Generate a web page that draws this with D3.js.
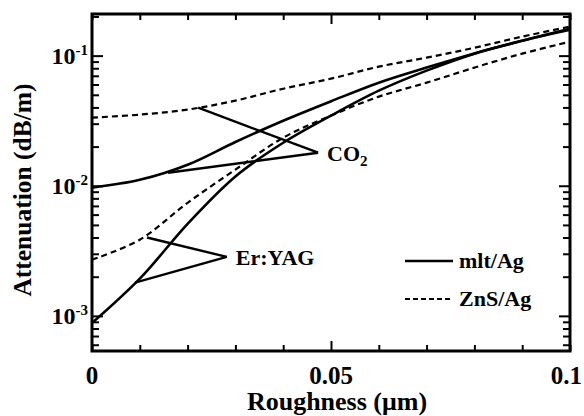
<!DOCTYPE html>
<html>
<head>
<meta charset="utf-8">
<script src="https://cdn.jsdelivr.net/npm/d3@7"></script>
<style>
  body { margin: 0; background: #fff; }
  svg text { font-family: "Liberation Serif", "Times New Roman", serif; font-weight: bold; fill: #000; }
</style>
</head>
<body>
<svg id="chart" width="584" height="416"></svg>
<script>
// roughness (um) sample points
var roughness = [0, 0.01, 0.02, 0.03, 0.04, 0.05, 0.06, 0.07, 0.08, 0.09, 0.1];
// attenuation (dB/m)
var co2Mlt = [0.00966, 0.0111, 0.0145, 0.0217, 0.0316, 0.0446, 0.062, 0.081, 0.104, 0.130, 0.161];
var co2Zns = [0.0334, 0.0352, 0.0385, 0.0451, 0.0557, 0.0665, 0.0823, 0.0965, 0.115, 0.140, 0.167];
var erMlt = [0.00088, 0.00193, 0.0051, 0.0118, 0.0214, 0.0346, 0.0538, 0.0767, 0.1036, 0.130, 0.158];
var erZns = [0.0027, 0.00385, 0.0074, 0.0133, 0.0234, 0.0346, 0.0484, 0.062, 0.0809, 0.1036, 0.128];

var xTickLabels = [0, 0.05, 0.1];
var yDecades = [1e-3, 1e-2, 1e-1];
var yExponents = ["-3", "-2", "-1"];

// annotation pointers: [vertex, end on dashed, end on solid]
var co2Pointer = [[0.0473, 0.01795], [0.0222, 0.0398], [0.0159, 0.0126]];
var erPointer = [[0.0282, 0.00284], [0.0115, 0.0040], [0.009, 0.0018]];

var legendItems = ["mlt/Ag", "ZnS/Ag"];

var L = 92, R = 570, T = 14, B = 351;
var svg = d3.select("#chart");

var x = d3.scaleLinear().domain([0, 0.1]).range([L, R]);
var y = d3.scaleLog().domain([Math.pow(10, -3.27), Math.pow(10, -0.68)]).range([B, T]);

// minor ticks for log axis
var yTicks = [];
[-4, -3, -2, -1].forEach(function(e) {
	for (var m = 1; m <= 9; m++) {
		var v = m * Math.pow(10, e);
		if (v >= y.domain()[0] && v <= y.domain()[1]) yTicks.push(v);
	}
});
var xMinor = d3.range(0, 0.1001, 0.01);

function isMajor(v) { return Math.abs(Math.log10(v) - Math.round(Math.log10(v))) < 1e-6; }

var yLeft = svg.append("g").attr("transform", "translate(" + L + ",0)")
	.call(d3.axisLeft(y).tickValues(yTicks).tickFormat("").tickSizeOuter(0));
var yRight = svg.append("g").attr("transform", "translate(" + R + ",0)")
	.call(d3.axisRight(y).tickValues(yTicks).tickFormat("").tickSizeOuter(0));
yLeft.selectAll(".tick line").attr("x2", function(d) { return isMajor(d) ? 11 : 7; });
yRight.selectAll(".tick line").attr("x2", function(d) { return isMajor(d) ? -11 : -7; });

var xBottom = svg.append("g").attr("transform", "translate(0," + B + ")")
	.call(d3.axisBottom(x).tickValues(xMinor).tickFormat("").tickSizeOuter(0));
var xTop = svg.append("g").attr("transform", "translate(0," + T + ")")
	.call(d3.axisTop(x).tickValues(xMinor).tickFormat("").tickSizeOuter(0));
xBottom.selectAll(".tick line").attr("y2", function(d, i) { return i === 5 ? -10 : -6; });
xTop.selectAll(".tick line").attr("y2", function(d, i) { return i === 5 ? 10 : 6; });

svg.selectAll(".domain").remove();
svg.selectAll(".tick line").attr("stroke", "#000").attr("stroke-width", 2);

// frame
svg.append("rect")
	.attr("x", L).attr("y", T).attr("width", R - L).attr("height", B - T)
	.attr("fill", "none").attr("stroke", "#000").attr("stroke-width", 3);

// x tick labels (last one kept inside the page)
svg.selectAll("text.xlab").data(xTickLabels).enter().append("text")
	.attr("class", "xlab")
	.attr("x", function(d, i) { return i === xTickLabels.length - 1 ? 582 : x(d); })
	.attr("y", 384)
	.attr("text-anchor", function(d, i) { return i === xTickLabels.length - 1 ? "end" : "middle"; })
	.style("font-size", "25px")
	.text(function(d) { return d === 0 ? "0" : String(d); });

// y tick labels with superscript exponents
var ylab = svg.selectAll("text.ylab").data(yDecades).enter().append("text")
	.attr("class", "ylab")
	.attr("x", 88)
	.attr("y", function(d) { return y(d) + 8; })
	.attr("text-anchor", "end")
	.style("font-size", "24px");
ylab.append("tspan").text("10");
ylab.append("tspan").attr("dy", -9).style("font-size", "15px")
	.text(function(d, i) { return yExponents[i]; });

// axis titles
svg.append("text")
	.attr("x", (L + R) / 2 + 6).attr("y", 410)
	.attr("text-anchor", "middle")
	.style("font-size", "26px")
	.text("Roughness (\u03bcm)");
svg.append("text")
	.attr("transform", "translate(31," + 190 + ") rotate(-90)")
	.attr("text-anchor", "middle")
	.style("font-size", "25.5px")
	.text("Attenuation (dB/m)");

// curves
var line = d3.line()
	.x(function(d) { return x(d[0]); })
	.y(function(d) { return y(d[1]); })
	.curve(d3.curveCatmullRom.alpha(0.5));

var series = [
	{ values: co2Zns, dash: "6,4", w: 2.2 },
	{ values: erZns, dash: "6,4", w: 2.2 },
	{ values: co2Mlt, dash: null, w: 2.6 },
	{ values: erMlt, dash: null, w: 2.6 }
];
svg.append("g").selectAll("path").data(series).enter().append("path")
	.attr("d", function(s) { return line(roughness.map(function(r, i) { return [r, s.values[i]]; })); })
	.attr("fill", "none")
	.attr("stroke", "#000")
	.attr("stroke-width", function(s) { return s.w; })
	.attr("stroke-dasharray", function(s) { return s.dash; });

// pointers
function drawPointer(p, fs) {
	var v = p[0];
	[p[1], p[2]].forEach(function(e) {
		svg.append("line")
			.attr("x1", x(v[0])).attr("y1", y(v[1]))
			.attr("x2", x(e[0])).attr("y2", y(e[1]))
			.attr("stroke", "#000").attr("stroke-width", 2.4);
	});
	return svg.append("text")
		.attr("x", x(v[0]) + 9).attr("y", y(v[1]) + 8)
		.style("font-size", fs);
}
var co2Text = drawPointer(co2Pointer, "22px");
co2Text.append("tspan").text("CO");
co2Text.append("tspan").attr("dy", 5).style("font-size", "15px").text("2");
drawPointer(erPointer, "22px").text("Er:YAG");

// legend
var lg = svg.append("g");
lg.selectAll("line").data(legendItems).enter().append("line")
	.attr("x1", 405).attr("x2", 453)
	.attr("y1", function(d, i) { return 261 + i * 38; })
	.attr("y2", function(d, i) { return 261 + i * 38; })
	.attr("stroke", "#000")
	.attr("stroke-width", function(d, i) { return i ? 2.2 : 2.6; })
	.attr("stroke-dasharray", function(d, i) { return i ? "5,3" : null; });
lg.selectAll("text").data(legendItems).enter().append("text")
	.attr("x", 459)
	.attr("y", function(d, i) { return 268 + i * 38; })
	.style("font-size", "22px")
	.text(function(d) { return d; });
</script>
</body>
</html>
